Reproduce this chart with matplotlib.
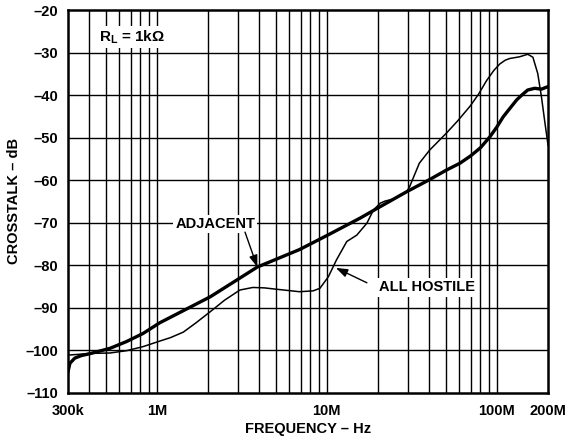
import numpy as np
import matplotlib
matplotlib.use("Agg")
import matplotlib.pyplot as plt
from matplotlib.ticker import FixedLocator, NullLocator

plt.rcParams['font.family'] = ['Liberation Sans', 'DejaVu Sans']
plt.rcParams['font.weight'] = 'bold'
plt.rcParams['mathtext.fontset'] = 'custom'
plt.rcParams['mathtext.rm'] = 'Liberation Sans:bold'
plt.rcParams['mathtext.bf'] = 'Liberation Sans:bold'
plt.rcParams['mathtext.it'] = 'Liberation Sans:bold'

# adjacent channel crosstalk (thick)
adj_f = [3.0e5, 3.08e5, 3.29e5, 3.6e5, 4.0e5, 5.3e5, 6.64e5, 8.3e5, 1.04e6, 2.06e6,
         3.9e6, 6.9e6, 1.0e7, 1.57e7, 2.0e7, 2.95e7, 4.0e7, 5.06e7, 6.07e7, 7.0e7,
         8.0e7, 9.1e7, 1.0e8, 1.09e8, 1.2e8, 1.31e8, 1.42e8, 1.52e8, 1.67e8, 1.83e8, 2.0e8]
adj_db = [-105.0, -103.0, -101.8, -101.2, -100.8, -99.5, -97.9, -96.0, -93.5, -87.4,
          -80.4, -76.3, -73.0, -68.9, -66.5, -62.7, -59.9, -57.6, -56.0, -54.3,
          -52.4, -49.8, -47.5, -45.1, -43.0, -41.1, -39.8, -38.8, -38.4, -38.6, -38.0]

# all hostile crosstalk (thin)
hos_f = [3.0e5, 3.5e5, 4.0e5, 5.3e5, 6.64e5, 8.3e5, 1.04e6, 1.2e6, 1.43e6, 1.7e6,
         2.06e6, 2.5e6, 3.08e6, 3.67e6, 4.3e6, 5.0e6, 6.9e6, 8.3e6, 9.1e6, 1.02e7,
         1.14e7, 1.31e7, 1.5e7, 1.72e7, 1.88e7, 2.06e7, 2.2e7, 2.47e7, 2.95e7, 3.07e7,
         3.5e7, 4.03e7, 5.06e7, 5.9e7, 6.96e7, 7.8e7, 8.7e7, 9.6e7, 1.04e8, 1.12e8,
         1.19e8, 1.36e8, 1.52e8, 1.63e8, 1.74e8, 1.83e8, 1.92e8, 2.0e8]
hos_db = [-101.1, -100.9, -100.7, -100.6, -100.05, -99.1, -97.8, -97.0, -95.7, -93.5,
          -90.9, -88.2, -85.8, -85.2, -85.3, -85.6, -86.2, -86.0, -85.4, -82.7,
          -78.7, -74.4, -72.9, -70.1, -67.0, -65.4, -64.9, -64.4, -62.7, -61.5,
          -56.0, -52.9, -48.9, -46.0, -42.6, -39.8, -36.6, -34.2, -32.7, -31.8,
          -31.4, -31.0, -30.4, -31.1, -34.9, -40.4, -46.6, -51.7]

xtick_pos = [3e5, 1e6, 1e7, 1e8, 2e8]
xtick_lab = ['300k', '1M', '10M', '100M', '200M']
ytick_pos = list(range(-110, -19, 10))
ytick_lab = ['\u2013' + str(abs(v)) for v in ytick_pos]

grid_x = [4e5, 5e5, 6e5, 7e5, 8e5, 9e5,
          1e6, 2e6, 3e6, 4e6, 5e6, 6e6, 7e6, 8e6, 9e6,
          1e7, 2e7, 3e7, 4e7, 5e7, 6e7, 7e7, 8e7, 9e7, 1e8]

fs = 10.5

fig = plt.figure(figsize=(5.69, 4.46), dpi=100)
ax = fig.add_axes([68/569, 53/446, 480/569, 383/446])

ax.set_xscale('log')
ax.set_xlim(3e5, 2e8)
ax.set_ylim(-110, -20)

for gx in grid_x:
    ax.axvline(gx, color='black', lw=1.0, zorder=1)
for gy in ytick_pos[1:-1]:
    ax.axhline(gy, color='black', lw=1.0, zorder=1)

ax.plot(adj_f, adj_db, color='black', lw=2.4, zorder=3, solid_joinstyle='round')
ax.plot(hos_f, hos_db, color='black', lw=1.1, zorder=3, solid_joinstyle='round')

ax.xaxis.set_major_locator(FixedLocator(xtick_pos))
ax.xaxis.set_minor_locator(NullLocator())
ax.set_xticklabels(xtick_lab)
ax.set_yticks(ytick_pos)
ax.set_yticklabels(ytick_lab)
ax.tick_params(axis='both', length=0, labelsize=fs)
ax.tick_params(axis='x', pad=8)
ax.tick_params(axis='y', pad=7)
for lab in ax.get_xticklabels() + ax.get_yticklabels():
    lab.set_fontweight('bold')

for sp in ax.spines.values():
    sp.set_linewidth(1.8)
    sp.set_zorder(5)

ax.set_xlabel('FREQUENCY \u2013 Hz', fontsize=fs, fontweight='bold', labelpad=3)
ax.set_ylabel('CROSSTALK \u2013 dB', fontsize=fs, fontweight='bold', labelpad=3)

box = dict(facecolor='white', edgecolor='none', pad=1.5)
ax.text(4.55e5, -26.3, r'$\mathregular{R_L}$ = 1k' + '\u03a9', fontsize=11, fontweight='bold',
        ha='left', va='center', bbox=box, zorder=4)
ax.text(2.2e6, -70.3, 'ADJACENT', fontsize=fs, fontweight='bold',
        ha='center', va='center', bbox=box, zorder=4)
ax.text(3.9e7, -85.2, 'ALL HOSTILE', fontsize=fs, fontweight='bold',
        ha='center', va='center', bbox=box, zorder=4)

arrow = dict(arrowstyle='-|>,head_length=0.7,head_width=0.25', color='black', lw=1.0,
             shrinkA=0, shrinkB=0)
ax.annotate('', xy=(3.9e6, -80.4), xytext=(3.3e6, -72.2), arrowprops=arrow, zorder=4)
ax.annotate('', xy=(1.13e7, -80.6), xytext=(1.72e7, -84.1), arrowprops=arrow, zorder=4)

fig.savefig('out.png', dpi=100)
